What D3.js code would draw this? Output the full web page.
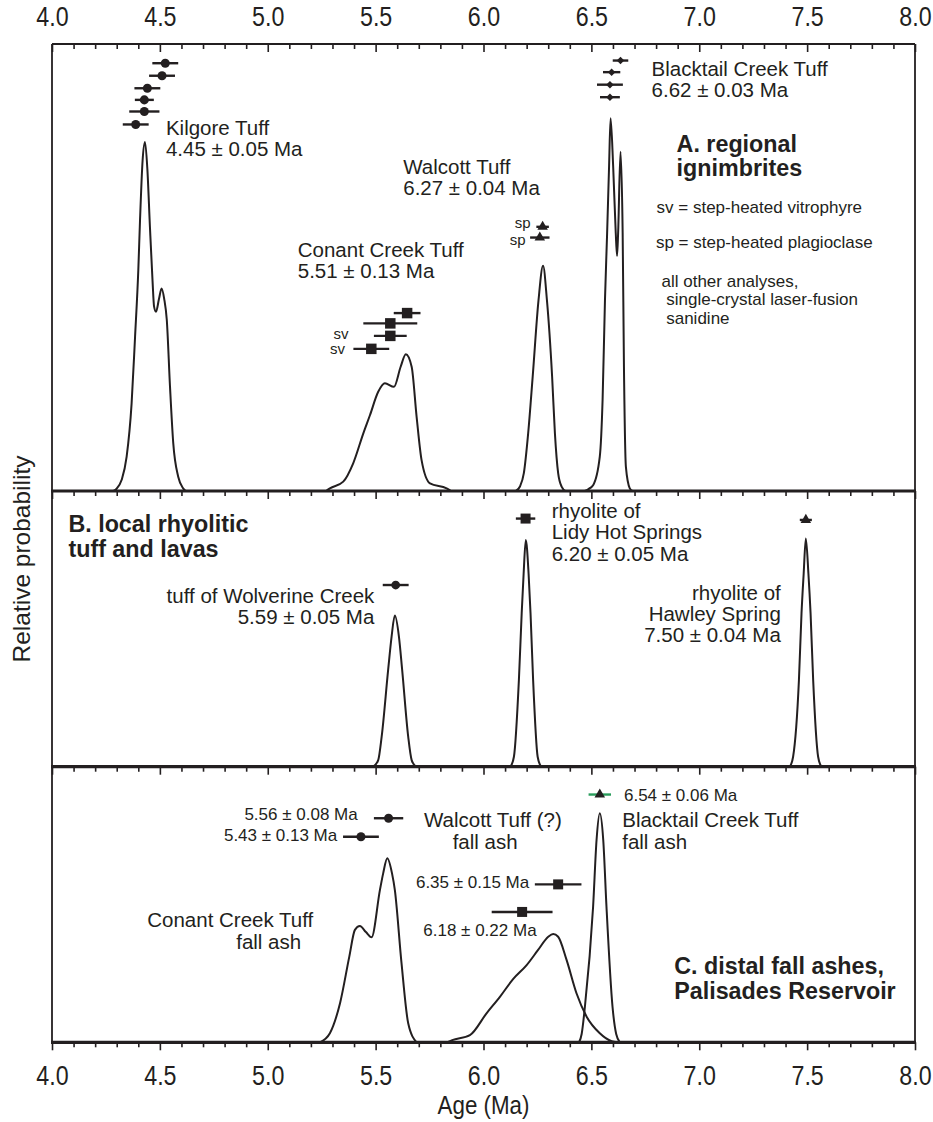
<!DOCTYPE html>
<html>
<head>
<meta charset="utf-8">
<script src="https://cdn.jsdelivr.net/npm/d3@7"></script>
<style>
body { margin: 0; background: #fff; }
svg text { font-family: "Liberation Sans", Arial, Helvetica, sans-serif; fill: #231f20; }
.tick text { font-size: 28px; fill: #231f20; }
.tick line { stroke: #231f20; stroke-width: 1.6; }
.lbl { font-size: 20.5px; }
.sm { font-size: 17px; }
.tag { font-size: 15px; }
.bold { font-size: 23.3px; font-weight: bold; }
</style>
</head>
<body>
<svg id="chart" width="933" height="1122"></svg>
<script>
// ages in Ma; probabilities are read as a fraction of each panel height
var majorTicks = [4.0, 4.5, 5.0, 5.5, 6.0, 6.5, 7.0, 7.5, 8.0];
var minorTicks = [4.1, 4.2, 4.3, 4.4, 4.6, 4.7, 4.8, 4.9, 5.1, 5.2, 5.3, 5.4, 5.6, 5.7, 5.8, 5.9,
	6.1, 6.2, 6.3, 6.4, 6.6, 6.7, 6.8, 6.9, 7.1, 7.2, 7.3, 7.4, 7.6, 7.7, 7.8, 7.9];

// A. regional ignimbrites
var kilgoreCurve = [[4.285,0],[4.297,0.004],[4.323,0.025],[4.346,0.077],[4.369,0.196],[4.385,0.345],[4.400,0.494],
	[4.408,0.606],[4.420,0.74],[4.431,0.781],[4.442,0.72],[4.454,0.59],[4.466,0.47],[4.473,0.413],[4.482,0.401],
	[4.496,0.43],[4.508,0.453],[4.520,0.43],[4.532,0.383],[4.547,0.233],[4.562,0.107],[4.585,0.032],[4.608,0.006],[4.62,0]];
var conantCurve = [[5.27,0],[5.288,0.006],[5.350,0.021],[5.396,0.062],[5.443,0.129],[5.474,0.170],[5.512,0.222],
	[5.543,0.241],[5.585,0.233],[5.616,0.278],[5.640,0.306],[5.667,0.278],[5.690,0.166],[5.713,0.069],[5.752,0.017],
	[5.829,0.006],[5.85,0]];
var walcottCurve = [[6.150,0],[6.169,0.010],[6.187,0.040],[6.207,0.129],[6.228,0.256],[6.255,0.427],[6.276,0.504],
	[6.294,0.427],[6.318,0.256],[6.331,0.129],[6.346,0.040],[6.362,0.010],[6.380,0]];
var blacktailCurve = [[6.47,0],[6.485,0.004],[6.508,0.013],[6.539,0.077],[6.552,0.204],[6.563,0.427],[6.573,0.577],
	[6.582,0.726],[6.589,0.834],[6.601,0.726],[6.613,0.577],[6.619,0.526],[6.624,0.577],[6.635,0.759],[6.645,0.577],
	[6.651,0.278],[6.660,0.054],[6.678,0.006],[6.69,0]];

// B. local rhyolitic tuff and lavas
var wolverineCurve = [[5.489,0],[5.512,0.024],[5.528,0.109],[5.558,0.351],[5.574,0.472],[5.589,0.548],[5.608,0.472],
	[5.623,0.351],[5.651,0.109],[5.667,0.024],[5.687,0]];
var lidyCurve = [[6.125,0],[6.141,0.036],[6.164,0.314],[6.177,0.556],[6.186,0.70],[6.196,0.822],[6.209,0.70],
	[6.218,0.556],[6.230,0.314],[6.251,0.036],[6.267,0]];
var hawleyCurve = [[7.42,0],[7.435,0.036],[7.462,0.314],[7.474,0.556],[7.484,0.70],[7.494,0.828],[7.506,0.70],
	[7.516,0.556],[7.528,0.314],[7.551,0.036],[7.566,0]];

// C. distal fall ashes
var conantFallCurve = [[5.242,0],[5.288,0.033],[5.335,0.142],[5.378,0.311],[5.404,0.408],[5.427,0.422],[5.455,0.40],
	[5.481,0.381],[5.520,0.553],[5.535,0.613],[5.554,0.668],[5.576,0.613],[5.589,0.553],[5.620,0.287],[5.651,0.069],[5.690,0]];
var walcottFallCurve = [[5.83,0],[5.855,0.008],[5.937,0.026],[6.014,0.105],[6.076,0.165],[6.138,0.230],[6.200,0.280],
	[6.253,0.335],[6.300,0.383],[6.323,0.393],[6.346,0.383],[6.385,0.299],[6.431,0.178],[6.478,0.093],[6.539,0.033],
	[6.594,0.004],[6.62,0]];
var blacktailFallCurve = [[6.443,0],[6.455,0.03],[6.470,0.129],[6.508,0.492],[6.524,0.734],[6.539,0.831],[6.555,0.734],
	[6.570,0.492],[6.598,0.129],[6.615,0.03],[6.632,0]];

// single analyses: [age, 1-sigma error, row height]
var kilgoreAges = [[4.525,0.060,0.957],[4.510,0.060,0.929],[4.442,0.060,0.901],[4.428,0.044,0.875],[4.428,0.070,0.849],[4.388,0.060,0.820]];
var blacktailAges = [[6.635,0.036,0.963],[6.594,0.040,0.937],[6.586,0.060,0.909],[6.586,0.046,0.881]];
var walcottAges = [[6.274,0.029,0.591],[6.261,0.045,0.567]];
var conantAges = [[5.646,0.062,0.398],[5.568,0.125,0.375],[5.568,0.076,0.347],[5.480,0.083,0.318]];
var wolverineAges = [[5.593,0.060,0.659]];
var lidyAges = [[6.195,0.045,0.900]];
var hawleyAges = [[7.494,0.028,0.895]];
var conantFallAges = [[5.560,0.068,0.813],[5.432,0.083,0.746]];
var walcottFallAges = [[6.346,0.108,0.573],[6.179,0.141,0.473]];
var blacktailFallAges = [[6.539,0.052,0.899]];

// text: [panel, age(s), height(s), anchor, class, lines]
// a list of ages/heights gives each line its own place
var labels = [
	['A', 4.528, 0.796, 'start', 'lbl', ['Kilgore Tuff', '4.45 \u00b1 0.05 Ma']],
	['A', 6.779, 0.928, 'start', 'lbl', ['Blacktail Creek Tuff', '6.62 \u00b1 0.03 Ma']],
	['A', 5.628, 0.709, 'start', 'lbl', ['Walcott Tuff', '6.27 \u00b1 0.04 Ma']],
	['A', 5.139, 0.524, 'start', 'lbl', ['Conant Creek Tuff', '5.51 \u00b1 0.13 Ma']],
	['A', 6.895, 0.759, 'start', 'bold', ['A. regional', 'ignimbrites']],
	['A', 6.802, 0.623, 'start', 'sm', ['sv = step-heated vitrophyre']],
	['A', 6.799, 0.543, 'start', 'sm', ['sp = step-heated plagioclase']],
	['A', 6.825, 0.456, 'start', 'sm', ['all other analyses,', '\u00a0single-crystal laser-fusion', '\u00a0sanidine']],
	['A', [5.374, 5.358], [0.340, 0.307], 'end', 'tag', ['sv', 'sv']],
	['A', [6.218, 6.195], [0.588, 0.551], 'end', 'tag', ['sp', 'sp']],
	['B', 4.076, 0.850, 'start', 'bold', ['B. local rhyolitic', 'tuff and lavas']],
	['B', 5.494, 0.593, 'end', 'lbl', ['tuff of Wolverine Creek', '5.59 \u00b1 0.05 Ma']],
	['B', 6.316, 0.901, 'start', 'lbl', ['rhyolite of', 'Lidy Hot Springs', '6.20 \u00b1 0.05 Ma']],
	['B', 7.378, 0.605, 'end', 'lbl', ['rhyolite of', 'Hawley Spring', '7.50 \u00b1 0.04 Ma']],
	['C', 5.417, 0.807, 'end', 'sm', ['5.56 \u00b1 0.08 Ma']],
	['C', 5.322, 0.731, 'end', 'sm', ['5.43 \u00b1 0.13 Ma']],
	['C', [5.724, 5.857], [0.782, 0.702], 'start', 'lbl', ['Walcott Tuff (?)', 'fall ash']],
	['C', [5.211, 5.155], [0.418, 0.339], 'end', 'lbl', ['Conant Creek Tuff', 'fall ash']],
	['C', 6.212, 0.559, 'end', 'sm', ['6.35 \u00b1 0.15 Ma']],
	['C', 5.721, 0.386, 'start', 'sm', ['6.18 \u00b1 0.22 Ma']],
	['C', 6.651, 0.876, 'start', 'sm', ['6.54 \u00b1 0.06 Ma']],
	['C', 6.643, 0.780, 'start', 'lbl', ['Blacktail Creek Tuff', 'fall ash']],
	['C', 6.884, 0.247, 'start', 'bold', ['C. distal fall ashes,', 'Palisades Reservoir']]
];

var ink = '#231f20';
var svg = d3.select('#chart');
var x = d3.scaleLinear().domain([4, 8]).range([52, 915]);

var panels = {
	A: { top: 44, bottom: 491 },
	B: { top: 491, bottom: 766.7 },
	C: { top: 766.7, bottom: 1042.3 }
};
Object.keys(panels).forEach(function (k) {
	var p = panels[k];
	p.y = d3.scaleLinear().domain([0, 1]).range([p.bottom, p.top]);
});

var line = function (p) {
	return d3.line()
		.x(function (d) { return x(d[0]); })
		.y(function (d) { return p.y(d[1]); })
		.curve(d3.curveMonotoneX);
};

var curves = [
	['A', kilgoreCurve], ['A', conantCurve], ['A', walcottCurve], ['A', blacktailCurve],
	['B', wolverineCurve], ['B', lidyCurve], ['B', hawleyCurve],
	['C', conantFallCurve], ['C', walcottFallCurve], ['C', blacktailFallCurve]
];

curves.forEach(function (c) {
	svg.append('path')
		.datum(c[1])
		.attr('d', line(panels[c[0]]))
		.attr('fill', 'none')
		.attr('stroke', ink)
		.attr('stroke-width', 2);
});

// error bars + symbols
var groups = [
	['A', kilgoreAges, d3.symbolCircle, 64, 0],
	['A', blacktailAges, d3.symbolSquare, 28, 45],
	['A', walcottAges, d3.symbolTriangle, 48, 0],
	['A', conantAges, d3.symbolSquare, 110, 0],
	['B', wolverineAges, d3.symbolCircle, 60, 0],
	['B', lidyAges, d3.symbolSquare, 100, 0],
	['B', hawleyAges, d3.symbolTriangle, 48, 0],
	['C', conantFallAges, d3.symbolCircle, 64, 0],
	['C', walcottFallAges, d3.symbolSquare, 100, 0],
	['C', blacktailFallAges, d3.symbolTriangle, 48, 0]
];

groups.forEach(function (g) {
	var p = panels[g[0]];
	var barColor = g[1] === blacktailFallAges ? '#2a9d5c' : ink;
	var sel = svg.append('g').selectAll('g')
		.data(g[1])
		.enter().append('g');

	sel.append('line')
		.attr('x1', function (d) { return x(d[0] - d[1]); })
		.attr('x2', function (d) { return x(d[0] + d[1]); })
		.attr('y1', function (d) { return p.y(d[2]); })
		.attr('y2', function (d) { return p.y(d[2]); })
		.attr('stroke', barColor)
		.attr('stroke-width', 2.4);

	sel.append('path')
		.attr('d', d3.symbol().type(g[2]).size(g[3]))
		.attr('transform', function (d) {
			return 'translate(' + [x(d[0]), p.y(d[2])] + ') rotate(' + g[4] + ')';
		})
		.attr('fill', ink);
});

// annotations
var lineHeight = { lbl: 21.2, sm: 18.3, tag: 18, bold: 24.3 };
labels.forEach(function (l) {
	var p = panels[l[0]];
	var multi = Array.isArray(l[1]);
	var xAt = function (i) { return x(multi ? l[1][i] : l[1]); };
	var t = svg.append('text')
		.attr('class', l[4])
		.attr('x', xAt(0))
		.attr('y', p.y(multi ? l[2][0] : l[2]))
		.attr('text-anchor', l[3]);
	l[5].forEach(function (s, i) {
		var ts = t.append('tspan').attr('x', xAt(i)).text(s);
		if (multi) ts.attr('y', p.y(l[2][i]));
		else ts.attr('dy', i === 0 ? 0 : lineHeight[l[4]]);
	});
});

// axes: top (inward ticks), bottom of each panel (downward ticks)
var tidy = function (g) {
	g.select('.domain').remove();
	g.selectAll('.tick text').attr('transform', 'scale(0.83,1)');
};

svg.append('g')
	.attr('transform', 'translate(0,' + panels.A.top + ')')
	.call(d3.axisTop(x).tickValues(minorTicks).tickSizeInner(-5).tickSizeOuter(0).tickFormat(''))
	.call(tidy);
svg.append('g')
	.attr('transform', 'translate(0,' + panels.A.top + ')')
	.call(d3.axisTop(x).tickValues(majorTicks).tickSizeInner(-8).tickSizeOuter(0)
		.tickPadding(18).tickFormat(d3.format('.1f')))
	.call(tidy);

['A', 'B', 'C'].forEach(function (k) {
	var p = panels[k];
	svg.append('g')
		.attr('transform', 'translate(0,' + p.bottom + ')')
		.call(d3.axisBottom(x).tickValues(minorTicks).tickSize(5).tickFormat(''))
		.call(tidy);
	svg.append('g')
		.attr('transform', 'translate(0,' + p.bottom + ')')
		.call(d3.axisBottom(x).tickValues(majorTicks).tickSize(8).tickPadding(15)
			.tickFormat(k === 'C' ? d3.format('.1f') : ''))
		.call(tidy);
});

// frame
var x0 = x.range()[0], x1 = x.range()[1];
svg.append('line').attr('x1', x0).attr('x2', x1).attr('y1', panels.A.top).attr('y2', panels.A.top)
	.attr('stroke', ink).attr('stroke-width', 1.8);
[x0, x1].forEach(function (xx) {
	svg.append('line').attr('x1', xx).attr('x2', xx).attr('y1', panels.A.top).attr('y2', panels.C.bottom)
		.attr('stroke', ink).attr('stroke-width', 1.8);
});
['A', 'B', 'C'].forEach(function (k) {
	svg.append('line').attr('x1', x0 - 1).attr('x2', x1 + 1)
		.attr('y1', panels[k].bottom).attr('y2', panels[k].bottom)
		.attr('stroke', ink).attr('stroke-width', 3.2);
});

// axis titles
var cx = (x0 + x1) / 2;
svg.append('text')
	.attr('transform', 'translate(' + cx + ',1114) scale(0.86,1)')
	.attr('text-anchor', 'middle')
	.style('font-size', '26px')
	.text('Age (Ma)');

svg.append('text')
	.attr('transform', 'translate(30,559) rotate(-90)')
	.attr('text-anchor', 'middle')
	.style('font-size', '24.5px')
	.text('Relative probability');
</script>
</body>
</html>
